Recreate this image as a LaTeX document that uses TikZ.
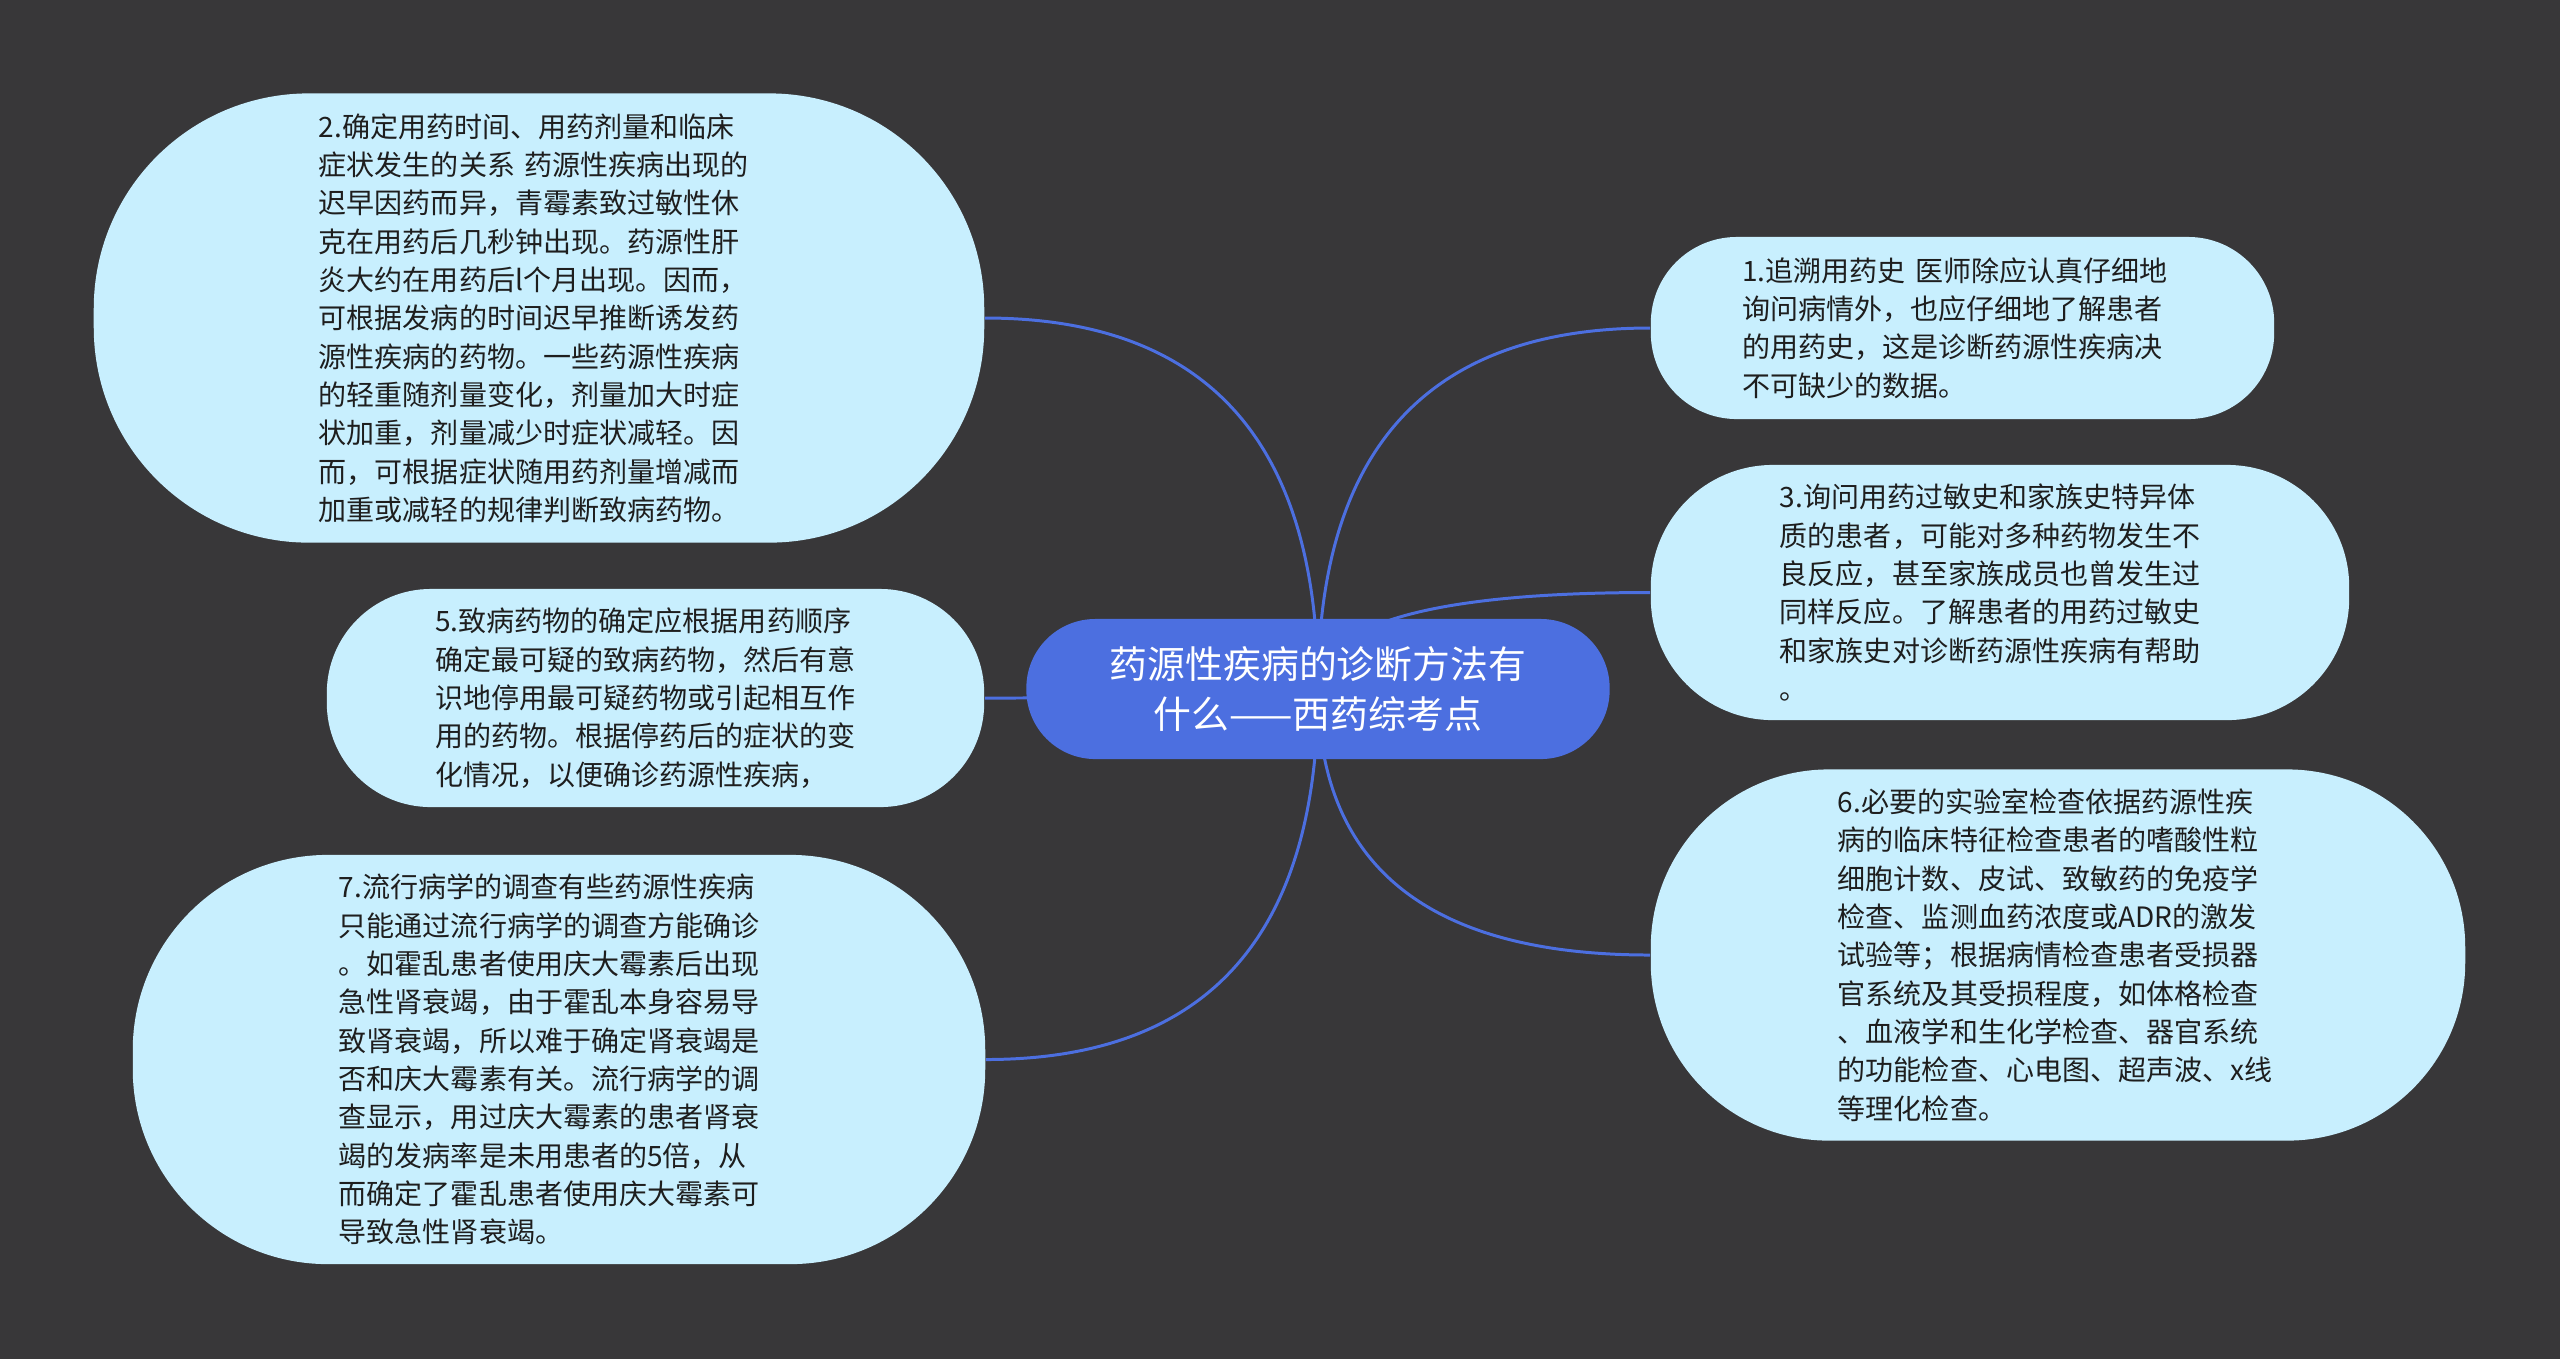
\documentclass[tikz,border=0pt]{standalone}
\usepackage{fontspec}
\usepackage{xcolor}
\newfontfamily\cjk{Noto Sans CJK SC}
\usetikzlibrary{calc,backgrounds}

\definecolor{bgdark}{HTML}{383739}
\definecolor{topicblue}{HTML}{4C6FE0}
\definecolor{leafblue}{HTML}{C8EFFE}
\definecolor{textdark}{HTML}{1E1E1E}

\tikzset{
  rootbox/.style={fill=topicblue, text=white, align=center, inner sep=0pt,
    font=\cjk\fontsize{10.76}{14.2}\selectfont},
  leafbox/.style={fill=leafblue, text=textdark, align=left, inner sep=0pt,
    text width=4.4cm, font=\cjk\fontsize{7.97}{10.9}\selectfont},
  link/.style={draw=topicblue, line width=0.85pt,
    to path={.. controls ($(\tikztostart)!2/3!(\tikztostart |- \tikztotarget)$)
      and ($(\tikztotarget)!2/3!(\tikztostart |- \tikztotarget)$) .. (\tikztotarget)}}
}

\begin{document}
\begin{tikzpicture}[x=0.01cm, y=-0.01cm]
          \useasboundingbox (0,0) rectangle (2560,1359);

          % central topic
          \node[rootbox, minimum width=5.83cm, minimum height=1.40cm, rounded corners=0.69cm]
            (topic) at (1318,689) {药源性疾病的诊断方法有\\什么——西药综考点};

          % left side
          \node[leafbox, minimum width=8.90cm, minimum height=4.49cm, rounded corners=2.15cm]
            (p2) at (539,318) {2.确定用药时间、用药剂量和临床\\症状发生的关系 药源性疾病出现的\\迟早因药而异，青霉素致过敏性休\\克在用药后几秒钟出现。药源性肝\\炎大约在用药后l个月出现。因而，\\可根据发病的时间迟早推断诱发药\\源性疾病的药物。一些药源性疾病\\的轻重随剂量变化，剂量加大时症\\状加重，剂量减少时症状减轻。因\\而，可根据症状随用药剂量增减而\\加重或减轻的规律判断致病药物。};
          \node[leafbox, minimum width=6.57cm, minimum height=2.18cm, rounded corners=1.04cm]
            (p5) at (655.5,698) {5.致病药物的确定应根据用药顺序\\确定最可疑的致病药物，然后有意\\识地停用最可疑药物或引起相互作\\用的药物。根据停药后的症状的变\\化情况，以便确诊药源性疾病，};
          \node[leafbox, minimum width=8.52cm, minimum height=4.09cm, rounded corners=1.95cm]
            (p7) at (559,1059.5) {7.流行病学的调查有些药源性疾病\\只能通过流行病学的调查方能确诊\\。如霍乱患者使用庆大霉素后出现\\急性肾衰竭，由于霍乱本身容易导\\致肾衰竭，所以难于确定肾衰竭是\\否和庆大霉素有关。流行病学的调\\查显示，用过庆大霉素的患者肾衰\\竭的发病率是未用患者的5倍，从\\而确定了霍乱患者使用庆大霉素可\\导致急性肾衰竭。};

          % right side
          \node[leafbox, minimum width=6.23cm, minimum height=1.82cm, rounded corners=0.86cm]
            (p1) at (1962.5,328) {1.追溯用药史 医师除应认真仔细地\\询问病情外，也应仔细地了解患者\\的用药史，这是诊断药源性疾病决\\不可缺少的数据。};
          \node[leafbox, minimum width=6.98cm, minimum height=2.55cm, rounded corners=1.22cm]
            (p3) at (2000,592.5) {3.询问用药过敏史和家族史特异体\\质的患者，可能对多种药物发生不\\良反应，甚至家族成员也曾发生过\\同样反应。了解患者的用药过敏史\\和家族史对诊断药源性疾病有帮助\\。};
          \node[leafbox, minimum width=8.14cm, minimum height=3.71cm, rounded corners=1.78cm]
            (p6) at (2058,955) {6.必要的实验室检查依据药源性疾\\病的临床特征检查患者的嗜酸性粒\\细胞计数、皮试、致敏药的免疫学\\检查、监测血药浓度或ADR的激发\\试验等；根据病情检查患者受损器\\官系统及其受损程度，如体格检查\\、血液学和生化学检查、器官系统\\的功能检查、心电图、超声波、x线\\等理化检查。};

          % background and branches
          \begin{scope}[on background layer]
            \fill[bgdark] (0,0) rectangle (2560,1359);
            \draw[link] (topic.center) to (p2.east);
            \draw[link] (topic.center) to (p5.east);
            \draw[link] (topic.center) to (p7.east);
            \draw[link] (topic.center) to (p1.west);
            \draw[link] (topic.center) to (p3.west);
            \draw[link] (topic.center) to (p6.west);
          \end{scope}
\end{tikzpicture}
\end{document}
